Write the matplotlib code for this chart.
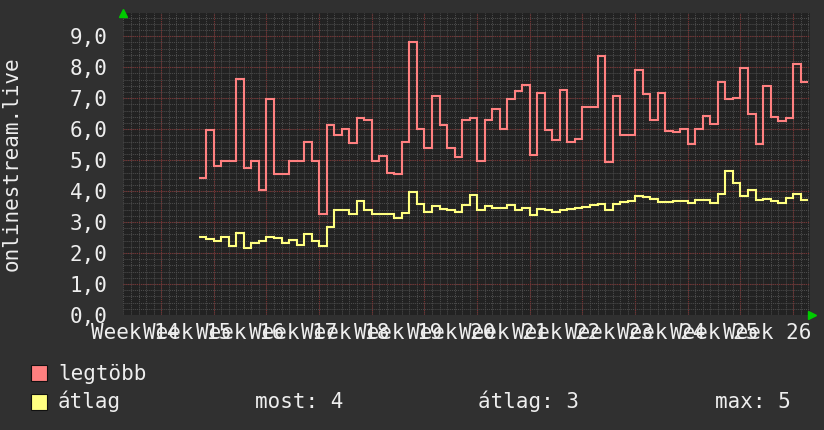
import matplotlib
matplotlib.use('Agg')
import matplotlib.pyplot as plt
import matplotlib.transforms as mtransforms
import numpy as np

# daily values, first day starts 5 days into week 15
legtobb = [4.43, 5.98, 4.81, 4.98, 4.98, 7.63, 4.76, 4.98, 4.02, 6.98, 4.55, 4.55, 4.98, 4.98, 5.57, 4.98,
           3.25, 6.14, 5.82, 5.99, 5.55, 6.36, 6.28, 4.98, 5.13, 4.59, 4.55, 5.59, 8.80, 6.00, 5.40, 7.08,
           6.12, 5.38, 5.11, 6.28, 6.36, 4.98, 6.31, 6.65, 6.02, 6.98, 7.24, 7.44, 5.17, 7.18, 5.96, 5.64, 7.27,
           5.57, 5.67, 6.72, 6.72, 8.35, 4.93, 7.08, 5.82, 5.82, 7.92, 7.12, 6.30, 7.18, 5.95, 5.91, 5.99, 5.52,
           6.00, 6.43, 6.17, 7.51, 6.96, 6.99, 7.98, 6.49, 5.52, 7.40, 6.40, 6.26, 6.36, 8.09, 7.51]
atlag = [2.51, 2.46, 2.39, 2.52, 2.23, 2.64, 2.15, 2.34, 2.39, 2.51, 2.48, 2.34, 2.42, 2.26, 2.62, 2.39,
         2.22, 2.85, 3.38, 3.38, 3.25, 3.69, 3.38, 3.25, 3.27, 3.25, 3.14, 3.30, 3.97, 3.58, 3.34, 3.53,
         3.41, 3.39, 3.31, 3.54, 3.88, 3.38, 3.52, 3.44, 3.44, 3.56, 3.38, 3.45, 3.22, 3.43, 3.40, 3.31, 3.38,
         3.42, 3.45, 3.49, 3.54, 3.58, 3.39, 3.59, 3.65, 3.67, 3.84, 3.82, 3.74, 3.65, 3.65, 3.68, 3.68, 3.63,
         3.72, 3.70, 3.62, 3.90, 4.65, 4.27, 3.83, 4.03, 3.72, 3.74, 3.69, 3.63, 3.77, 3.90, 3.72]
weeks = list(range(14, 27))
week_labels = [f'Week {w}' for w in weeks]
stats = ['most: 4', 'átlag: 3', 'max: 5']

BG = '#303030'
CANVAS = '#222222'
FG = '#eeeeee'
RED = '#ff8080'
YEL = '#ffff80'
plt.rcParams['font.family'] = ['DejaVu Sans Mono']
plt.rcParams['font.size'] = 15

fig = plt.figure(figsize=(8.24, 4.30), dpi=100, facecolor=BG)
ax = fig.add_axes([123.5 / 824, 115 / 430, (810 - 123.5) / 824, (315 - 13) / 430])
ax.set_facecolor(CANVAS)
x0, x1 = 14 + 2 / 7, 27.32
ax.set_xlim(x0, x1)
ax.set_ylim(0, 9.75)

# grid: minor per day / 0.2, major per week / 1.0
for d in np.arange(14 + 2 / 7, x1, 1 / 7):
    ax.axvline(d, color='#4e4e4e', lw=0.7, ls=(0, (1, 1)), zorder=1)
for v in np.arange(0.2, 9.75, 0.2):
    ax.axhline(v, color='#4e4e4e', lw=0.7, ls=(0, (1, 1)), zorder=1)
for w in range(15, 28):
    ax.axvline(w, color='#7a3030', lw=0.8, ls=(0, (1, 1)), zorder=1.5)
for v in range(1, 10):
    ax.axhline(v, color='#7a3030', lw=0.8, ls=(0, (1, 1)), zorder=1.5)

edges = 15 + 5 / 7 + np.arange(len(legtobb) + 1) / 7
ax.stairs(legtobb, edges, baseline=None, color=RED, lw=1.5, zorder=3)
ax.stairs(atlag, edges, baseline=None, color=YEL, lw=1.5, zorder=3)

ax.set_yticks(range(10))
ax.set_yticklabels([f'{v:.1f}'.replace('.', ',') for v in range(10)], color=FG)
ax.tick_params(axis='y', length=0, pad=11.5)
ax.set_xticks([])
# week labels, centred mid-week, baseline fixed below the axis
tr = mtransforms.blended_transform_factory(ax.transData, fig.transFigure)
for w, lab in zip(weeks, week_labels):
    ax.text(w + 0.5, 1 - 339 / 430, lab, transform=tr, ha='center', va='baseline', color=FG, clip_on=False)
for s in ax.spines.values():
    s.set_visible(False)

# axis arrows
ax.plot([0], [1], marker='^', color='#00cc00', ms=6, transform=ax.transAxes, clip_on=False)
ax.plot([1.003], [0], marker='>', color='#00cc00', ms=6, transform=ax.transAxes, clip_on=False)

fig.text(12 / 824, 1 - 164 / 430, 'onlinestream.live', rotation=90, ha='center', va='center', color=FG)

# legend
fig.patches.append(plt.Rectangle((31.5 / 824, 1 - 381 / 430), 15.5 / 824, 16 / 430, transform=fig.transFigure,
                                 facecolor=RED, edgecolor='#111111', lw=0.8))
fig.patches.append(plt.Rectangle((31.5 / 824, 1 - 410 / 430), 15.5 / 824, 16 / 430, transform=fig.transFigure,
                                 facecolor=YEL, edgecolor='#111111', lw=0.8))
fig.text(58 / 824, 1 - 380 / 430, 'legtöbb', ha='left', va='baseline', color=FG)
fig.text(58 / 824, 1 - 408 / 430, 'átlag', ha='left', va='baseline', color=FG)
for xs, s in zip([255, 478, 715], stats):
    fig.text(xs / 824, 1 - 408 / 430, s, ha='left', va='baseline', color=FG)

fig.savefig('out.png', dpi=100, facecolor=BG)
